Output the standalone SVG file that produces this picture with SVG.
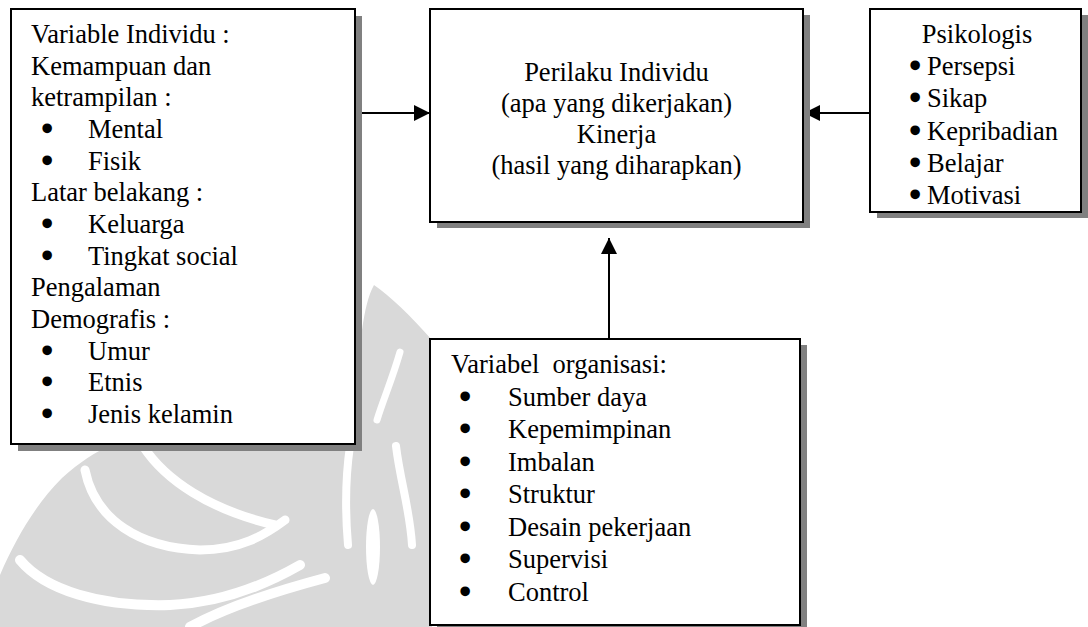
<svg xmlns="http://www.w3.org/2000/svg" width="1088" height="627" viewBox="0 0 1088 627">
<style>
text{font-family:"Liberation Serif","Times New Roman",serif;font-size:26.5px;fill:#000}
.c{text-anchor:middle}
.b{stroke:#000;stroke-width:3.2;stroke-linejoin:round}
.box{fill:#fff;stroke:#000;stroke-width:2}
.sh{fill:#808080}
.wm{fill:#d9d9d9}
.wb{fill:none;stroke:#fff;stroke-linecap:round}
.con{stroke:#000;stroke-width:2;fill:none}
</style>
<defs>
<marker id="ah" markerUnits="userSpaceOnUse" markerWidth="16" markerHeight="16" refX="16" refY="8" orient="auto">
<path d="M0,0 L16,8 L0,16 Z" fill="#000"/>
</marker>
</defs>
<rect width="1088" height="627" fill="#fff"/>
<g id="watermark">
<path class="wm" d="M0,627 L0,575 C15,540 35,505 62,478 C80,462 95,452 110,446 L362,446 L362,330 C365,310 368,296 374,285 C390,296 410,315 432,340 L432,627 Z"/>
<path class="wb" stroke-width="9" d="M143,446 C165,480 210,510 275,525"/>
<path class="wb" stroke-width="9" d="M85,470 C95,520 140,548 200,550 C240,550 265,535 285,520"/>
<path class="wb" stroke-width="10" d="M20,560 C45,590 100,607 170,605 C220,603 265,585 300,565"/>
<path class="wb" stroke-width="10" d="M190,627 C230,605 280,590 325,578"/>
<path class="wb" stroke-width="8" d="M350,446 C345,480 345,510 348,545"/>
<path class="wb" stroke-width="8" d="M396,446 C400,480 410,510 412,545"/>
<path class="wb" stroke-width="7" d="M400,352 C392,380 383,400 377,420"/>
<ellipse cx="373" cy="547" rx="7" ry="38" fill="#fff"/>
</g>
<g id="connectors">
<line class="con" x1="355" y1="113" x2="430" y2="113" marker-end="url(#ah)"/>
<line class="con" x1="870" y1="113" x2="804" y2="113" marker-end="url(#ah)"/>
<line class="con" x1="609" y1="339" x2="609" y2="238" marker-end="url(#ah)"/>
</g>
<g id="variable-individu">
<rect class="sh" x="18" y="16" width="344" height="435"/>
<rect class="box" x="11" y="9" width="344" height="435"/>
<text x="31" y="43">Variable Individu :</text>
<text x="31" y="74.7">Kemampuan dan</text>
<text x="31" y="106.3">ketrampilan :</text>
<text class="b" x="42.4" y="138">•</text><text x="88" y="138">Mental</text>
<text class="b" x="42.4" y="169.7">•</text><text x="88" y="169.7">Fisik</text>
<text x="31" y="201.3">Latar belakang :</text>
<text class="b" x="42.4" y="233">•</text><text x="88" y="233">Keluarga</text>
<text class="b" x="42.4" y="264.7">•</text><text x="88" y="264.7">Tingkat social</text>
<text x="31" y="296.3">Pengalaman</text>
<text x="31" y="328">Demografis :</text>
<text class="b" x="42.4" y="359.7">•</text><text x="88" y="359.7">Umur</text>
<text class="b" x="42.4" y="391.3">•</text><text x="88" y="391.3">Etnis</text>
<text class="b" x="42.4" y="423">•</text><text x="88" y="423">Jenis kelamin</text>
</g>
<g id="perilaku-individu">
<rect class="sh" x="437" y="15" width="373" height="213"/>
<rect class="box" x="430" y="9" width="373" height="213"/>
<text class="c" x="616.5" y="81">Perilaku Individu</text>
<text class="c" x="616.5" y="112">(apa yang dikerjakan)</text>
<text class="c" x="616.5" y="143">Kinerja</text>
<text class="c" x="616.5" y="174">(hasil yang diharapkan)</text>
</g>
<g id="psikologis">
<rect class="sh" x="877" y="15" width="211" height="203"/>
<rect class="box" x="870" y="9" width="211" height="203"/>
<text class="c" x="977" y="43">Psikologis</text>
<text class="b" x="910.5" y="75.2">•</text><text x="927" y="75.2">Persepsi</text>
<text class="b" x="910.5" y="107.4">•</text><text x="927" y="107.4">Sikap</text>
<text class="b" x="910.5" y="139.6">•</text><text x="927" y="139.6">Kepribadian</text>
<text class="b" x="910.5" y="171.8">•</text><text x="927" y="171.8">Belajar</text>
<text class="b" x="910.5" y="204">•</text><text x="927" y="204">Motivasi</text>
</g>
<g id="variabel-organisasi">
<rect class="sh" x="437" y="345" width="370" height="286"/>
<rect class="box" x="430" y="339" width="370" height="286"/>
<text x="451" y="373" xml:space="preserve">Variabel  organisasi:</text>
<text class="b" x="460.4" y="405.6">•</text><text x="508" y="405.6">Sumber daya</text>
<text class="b" x="460.4" y="438.1">•</text><text x="508" y="438.1">Kepemimpinan</text>
<text class="b" x="460.4" y="470.7">•</text><text x="508" y="470.7">Imbalan</text>
<text class="b" x="460.4" y="503.3">•</text><text x="508" y="503.3">Struktur</text>
<text class="b" x="460.4" y="535.9">•</text><text x="508" y="535.9">Desain pekerjaan</text>
<text class="b" x="460.4" y="568.4">•</text><text x="508" y="568.4">Supervisi</text>
<text class="b" x="460.4" y="601">•</text><text x="508" y="601">Control</text>
</g>
</svg>
